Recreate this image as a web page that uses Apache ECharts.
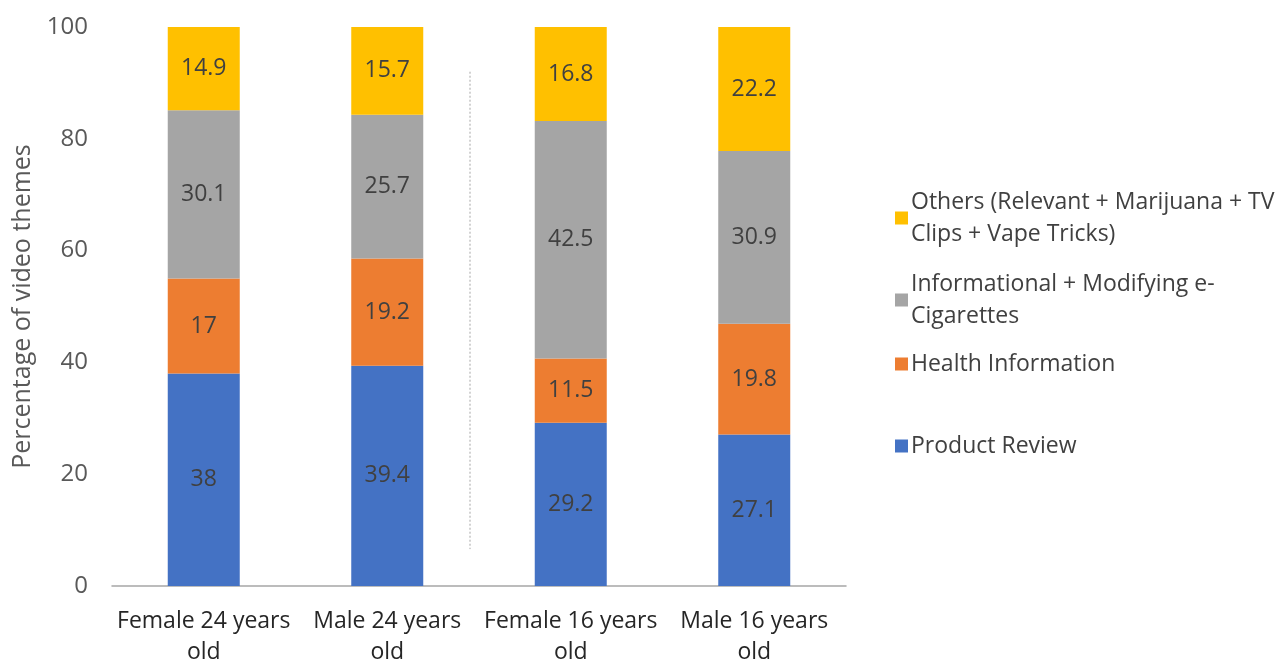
<!DOCTYPE html>
<html>
<head>
<meta charset="utf-8">
<script src="https://cdn.jsdelivr.net/npm/echarts@6/dist/echarts.min.js"></script>
<style>
  html, body { margin: 0; padding: 0; background: #fff; }
  #chart { width: 1282px; height: 661px; }
</style>
</head>
<body>
<div id="chart"></div>
<script>
var categories = ['Female 24 years\nold', 'Male 24 years\nold', 'Female 16 years\nold', 'Male 16 years\nold'];
var productReview = [38, 39.4, 29.2, 27.1];
var healthInfo = [17, 19.2, 11.5, 19.8];
var informational = [30.1, 25.7, 42.5, 30.9];
var others = [14.9, 15.7, 16.8, 22.2];
var yTicks = [0, 20, 40, 60, 80, 100];

var names = ['Product Review', 'Health Information', 'Informational + Modifying e-Cigarettes', 'Others (Relevant + Marijuana + TV Clips + Vape Tricks)'];
var legendText = {
  'Others (Relevant + Marijuana + TV Clips + Vape Tricks)': 'Others (Relevant + Marijuana + TV\nClips + Vape Tricks)',
  'Informational + Modifying e-Cigarettes': 'Informational + Modifying e-\nCigarettes',
  'Health Information': 'Health Information',
  'Product Review': 'Product Review'
};

var font = 'Open Sans';
var chart = echarts.init(document.getElementById('chart'));

function barSeries(name, data, color) {
  return {
    name: name,
    type: 'bar',
    stack: 'total',
    data: data,
    barWidth: 72,
    itemStyle: { color: color },
    label: {
      show: true,
      position: 'inside',
      color: '#404040',
      fontSize: 23,
      fontFamily: font
    }
  };
}

function legendAt(name, top) {
  return {
    data: [name],
    left: 890,
    top: top,
    orient: 'vertical',
    icon: 'rect',
    itemWidth: 13,
    itemHeight: 13,
    itemGap: 6,
    selectedMode: false,
    formatter: function (n) { return legendText[n]; },
    textStyle: { color: '#404040', fontSize: 23, fontFamily: font, lineHeight: 32, padding: [0, 0, 0, -2] }
  };
}

var option = {
  animation: false,
  grid: { left: 112, right: 436, top: 27, bottom: 75, outerBoundsMode: 'none', containLabel: false },
  legend: [
    legendAt(names[3], 181),
    legendAt(names[2], 263),
    legendAt(names[1], 343),
    legendAt(names[0], 425)
  ],
  xAxis: {
    type: 'category',
    data: categories,
    axisTick: { show: false },
    axisLine: { lineStyle: { color: '#a6a6a6', width: 1.5 } },
    axisLabel: { color: '#262626', fontSize: 23, fontFamily: font, lineHeight: 31, margin: 20, interval: 0 }
  },
  yAxis: {
    type: 'value',
    min: 0,
    max: 100,
    interval: 20,
    name: 'Percentage of video themes',
    nameLocation: 'middle',
    nameGap: 77,
    nameTextStyle: { color: '#595959', fontSize: 25, fontFamily: font },
    splitLine: { show: false },
    axisLine: { show: false },
    axisTick: { show: false },
    axisLabel: {
      color: '#595959', fontSize: 24, fontFamily: font, margin: 24,
      formatter: function (v) { return yTicks.indexOf(v) >= 0 ? String(v) : ''; }
    }
  },
  series: [
    barSeries(names[0], productReview, '#4472C4'),
    barSeries(names[1], healthInfo, '#ED7D31'),
    barSeries(names[2], informational, '#A5A5A5'),
    barSeries(names[3], others, '#FFC000')
  ]
};
chart.setOption(option);

// dotted separator between the 24- and 16-year-old groups
var topPt = chart.convertToPixel({ xAxisIndex: 0, yAxisIndex: 0 }, [1, 92]);
var botPt = chart.convertToPixel({ xAxisIndex: 0, yAxisIndex: 0 }, [2, 6.6]);
var sepX = (topPt[0] + botPt[0]) / 2 - 9;
chart.setOption({
  graphic: [{
    type: 'line',
    shape: { x1: sepX, y1: topPt[1], x2: sepX, y2: botPt[1] },
    style: { stroke: '#a6a6a6', lineWidth: 1, lineDash: [2, 2] }
  }]
});
</script>
</body>
</html>
